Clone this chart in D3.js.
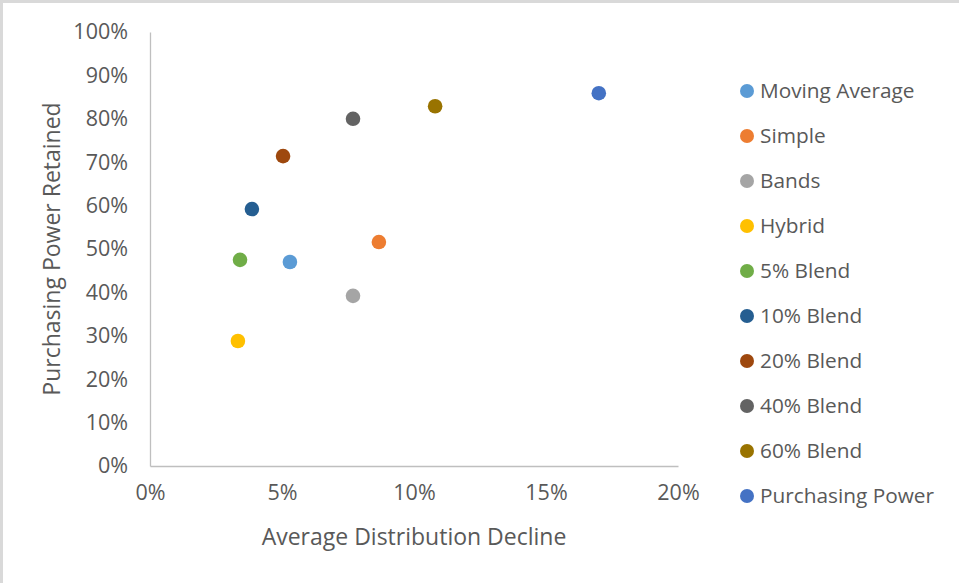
<!DOCTYPE html>
<html>
<head>
<meta charset="utf-8">
<script src="https://cdn.jsdelivr.net/npm/d3@7"></script>
<style>
  html, body { margin: 0; padding: 0; background: #fff; }
  svg text { font-family: "Open Sans", "Liberation Sans", sans-serif; fill: #595959; }
</style>
</head>
<body>
<svg id="chart" width="959" height="583"></svg>
<script>
// Strategy results: average distribution decline vs. purchasing power retained
const seriesNames = ["Moving Average", "Simple", "Bands", "Hybrid", "5% Blend",
  "10% Blend", "20% Blend", "40% Blend", "60% Blend", "Purchasing Power"];
const declineValues = [0.053, 0.0867, 0.0769, 0.0333, 0.0341, 0.0386, 0.0504, 0.0769, 0.108, 0.170];
const retainedValues = [0.470, 0.516, 0.392, 0.288, 0.475, 0.592, 0.714, 0.800, 0.829, 0.859];
const seriesColors = ["#5B9BD5", "#ED7D31", "#A5A5A5", "#FFC000", "#70AD47",
  "#255E91", "#9E480E", "#636363", "#997300", "#4472C4"];
const xTickValues = [0, 0.05, 0.10, 0.15, 0.20];
const yTickValues = [0, 0.1, 0.2, 0.3, 0.4, 0.5, 0.6, 0.7, 0.8, 0.9, 1.0];

const svg = d3.select("#chart");
const W = 959, H = 583;
const plot = { left: 150, right: 678, top: 32, bottom: 466 };

// chart frame (left and top edges)
svg.append("line").attr("x1", 1.5).attr("x2", 1.5).attr("y1", 1.5).attr("y2", H)
  .attr("stroke", "#d9d9d9").attr("stroke-width", 3);
svg.append("line").attr("x1", 0).attr("x2", W).attr("y1", 1.5).attr("y2", 1.5)
  .attr("stroke", "#d9d9d9").attr("stroke-width", 3);

const x = d3.scaleLinear().domain([0, 0.20]).range([plot.left, plot.right]);
const y = d3.scaleLinear().domain([0, 1.0]).range([plot.bottom, plot.top]);
const pct = d3.format(".0%");

const xAxis = svg.append("g")
  .attr("transform", `translate(0,${plot.bottom})`)
  .call(d3.axisBottom(x).tickValues(xTickValues).tickFormat(pct).tickSize(0).tickPadding(19));
const yAxis = svg.append("g")
  .attr("transform", `translate(${plot.left},0)`)
  .call(d3.axisLeft(y).tickValues(yTickValues).tickFormat(pct).tickSize(0).tickPadding(22));

[xAxis, yAxis].forEach(g => {
  g.select(".domain").attr("stroke", "#bfbfbf").attr("stroke-width", 1.3);
  g.selectAll("text").style("font-size", "21.5px").attr("fill", "#595959");
});

// axis titles
svg.append("text")
  .attr("x", (plot.left + plot.right) / 2).attr("y", 545)
  .attr("text-anchor", "middle").style("font-size", "23px")
  .text("Average Distribution Decline");
svg.append("text")
  .attr("transform", `translate(60,${(plot.top + plot.bottom) / 2}) rotate(-90)`)
  .attr("text-anchor", "middle").style("font-size", "23px")
  .text("Purchasing Power Retained");

// points
const data = seriesNames.map((name, i) => ({
  name, x: declineValues[i], y: retainedValues[i], color: seriesColors[i]
}));
svg.append("g").selectAll("circle").data(data).join("circle")
  .attr("cx", d => x(d.x)).attr("cy", d => y(d.y)).attr("r", 7.3)
  .attr("fill", d => d.color);

// legend
const legend = svg.append("g").attr("transform", "translate(747,91)");
const rows = legend.selectAll("g").data(data).join("g")
  .attr("transform", (d, i) => `translate(0,${i * 45})`);
rows.append("circle").attr("r", 7).attr("fill", d => d.color);
rows.append("text").attr("x", 13).attr("dy", "0.35em")
  .style("font-size", "20.8px").text(d => d.name);
</script>
</body>
</html>
